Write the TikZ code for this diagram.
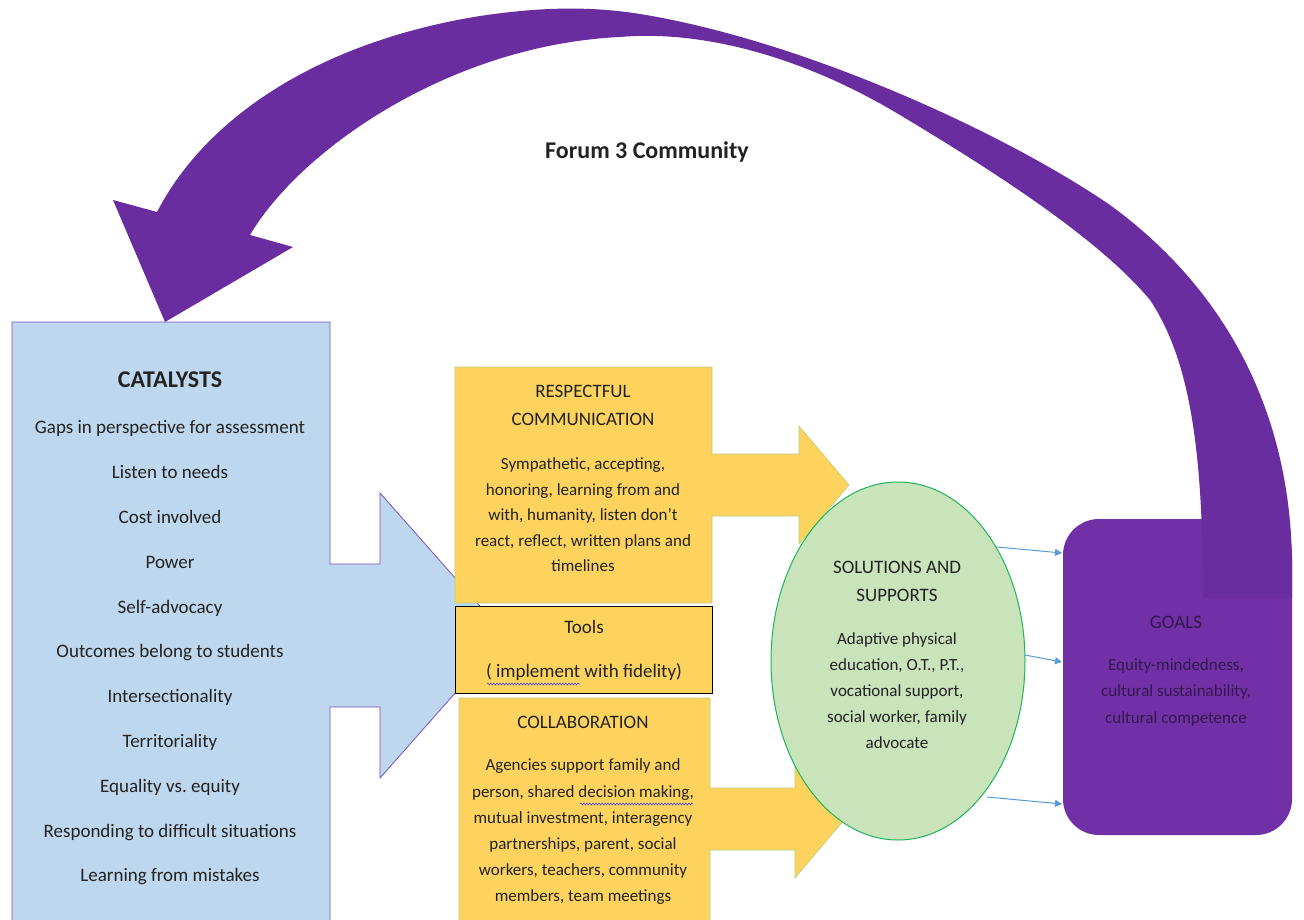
\documentclass[tikz,border=0pt]{standalone}
\usepackage{fontspec}
\setmainfont{Carlito}
\usetikzlibrary{arrows.meta,decorations.pathmorphing}
\definecolor{catblue}{HTML}{BDD7EE}
\definecolor{catedge}{HTML}{7A4FC0}
\definecolor{purp}{HTML}{7130A6}
\definecolor{band}{HTML}{6A2D9F}
\definecolor{gold}{HTML}{FDD35E}
\definecolor{goldedge}{HTML}{B9D07A}
\definecolor{solgreen}{HTML}{C9E3BA}
\definecolor{soledge}{HTML}{1FB45A}
\definecolor{linkblue}{HTML}{5B9BD5}
\definecolor{txt}{HTML}{222222}
\definecolor{goaltxt}{HTML}{33184F}
\definecolor{squig}{HTML}{4A4AE0}
\tikzset{
  cattitle/.style={font=\bfseries\fontsize{24}{26}\selectfont, text=txt, inner sep=0pt},
  catlist/.style={font=\fontsize{19}{44.8}\selectfont, text=txt, align=center, inner sep=0pt},
  boxtitle/.style={font=\fontsize{19}{28}\selectfont, text=txt, align=center, inner sep=0pt},
  boxbody/.style={font=\fontsize{17}{25.5}\selectfont, text=txt, align=center, inner sep=0pt},
  collbody/.style={font=\fontsize{17}{26.2}\selectfont, text=txt, align=center, inner sep=0pt},
  solbody/.style={font=\fontsize{17}{26}\selectfont, text=txt, align=center, inner sep=0pt},
  goaltitle/.style={font=\fontsize{19}{20}\selectfont, text=goaltxt, inner sep=0pt},
  goalbody/.style={font=\fontsize{17}{26.5}\selectfont, text=goaltxt, align=center, inner sep=0pt},
  link/.style={draw=linkblue, line width=1pt, -{Triangle[length=7pt,width=7pt]}},
  wavy/.style={draw=squig, line width=0.6pt, decorate, decoration={snake, amplitude=1pt, segment length=3pt}},
}
\begin{document}
\begin{tikzpicture}[x=1pt,y=-1pt]
\useasboundingbox (0,0) rectangle (1304,920);
\clip (0,0) rectangle (1304,920);
\fill[white] (0,0) rectangle (1304,920);

% catalysts box with block arrow
\draw[fill=catblue, draw=catedge, line width=0.8pt]
  (12,322) -- (330,322) -- (330,564) -- (380,564) -- (380,493) -- (506,635.5)
  -- (380,778) -- (380,707) -- (330,707) -- (330,930) -- (12,930) -- cycle;
\node[cattitle] (cattitle) at (170,380) {CATALYSTS};
\node[catlist] (catitems) at (170,653) {Gaps in perspective for assessment\\Listen to needs\\Cost involved\\Power\\Self-advocacy\\Outcomes belong to students\\Intersectionality\\Territoriality\\Equality vs.\ equity\\Responding to difficult situations\\Learning from mistakes};

% respectful communication callout
\draw[fill=gold, draw=goldedge, line width=0.6pt]
  (455,367) -- (712,367) -- (712,454) -- (799,454) -- (799,426) -- (849,485)
  -- (799,544) -- (799,516) -- (712,516) -- (712,603) -- (455,603) -- cycle;
\node[boxtitle] (resptitle) at (583,405) {RESPECTFUL\\COMMUNICATION};
\node[boxbody] (respbody) at (583,515) {Sympathetic, accepting,\\honoring, learning from and\\with, humanity, listen don’t\\react, reflect, written plans and\\timelines};

% tools
\draw[fill=gold, draw=black, line width=1pt] (455,606) rectangle (712,693);
\node[boxtitle] (toolstitle) at (584,627) {Tools};
\node[boxtitle] (toolsbody) at (584,672) {( implement with fidelity)};
\draw[wavy] (487,684) -- (580,684);

% collaboration callout
\draw[fill=gold, draw=goldedge, line width=0.6pt]
  (459,698) -- (710,698) -- (710,788) -- (795,788) -- (795,760) -- (845,819)
  -- (795,878) -- (795,850) -- (710,850) -- (710,930) -- (459,930) -- cycle;
\node[boxtitle] (collabtitle) at (583,722) {COLLABORATION};
\node[collbody] (collabbody) at (583,832) {Agencies support family and\\person, shared decision making,\\mutual investment, interagency\\partnerships, parent, social\\workers, teachers, community\\members, team meetings};
\draw[wavy] (580,804) -- (693,804);

% solutions ellipse
\draw[fill=solgreen, draw=soledge, line width=1pt] (898,661) ellipse [x radius=127, y radius=179];
\node[boxtitle] (soltitle) at (897,581) {SOLUTIONS AND\\SUPPORTS};
\node[solbody] (solbody) at (897,691) {Adaptive physical\\education, O.T., P.T.,\\vocational support,\\social worker, family\\advocate};

% goals
\fill[purp, rounded corners=36pt] (1063,519) rectangle (1292,835);
\node[goaltitle] (goaltitle) at (1176,622) {GOALS};
\node[goalbody] (goalbody) at (1176,692) {Equity-mindedness,\\cultural sustainability,\\cultural competence};

% links
\coordinate (l1s) at (997,547); \coordinate (l1e) at (1062,553);
\coordinate (l2s) at (1025,655); \coordinate (l2e) at (1062,662);
\coordinate (l3s) at (987,797); \coordinate (l3e) at (1062,804);
\draw[link] (l1s) -- (l1e);
\draw[link] (l2s) -- (l2e);
\draw[link] (l3s) -- (l3e);

% curved feedback arrow
\fill[band]
  (1292,598) -- (1292,560)
  .. controls (1290,430) and (1240,300) .. (1110,205)
  .. controls (1000,130) and (800,40) .. (640,14)
  .. controls (590,6) and (540,7) .. (480,16)
  .. controls (330,40) and (210,110) .. (157,212)
  -- (113,200) -- (165,322) -- (293,247) -- (250,235)
  .. controls (300,150) and (450,45) .. (620,37)
  .. controls (700,30) and (800,55) .. (900,115)
  .. controls (1000,175) and (1100,240) .. (1150,300)
  .. controls (1190,360) and (1203,450) .. (1203,598)
  -- cycle;

\node[font=\bfseries\fontsize{24}{26}\selectfont, text=txt, inner sep=0pt] (forum) at (647,152) {Forum 3 Community};
\end{tikzpicture}
\end{document}
